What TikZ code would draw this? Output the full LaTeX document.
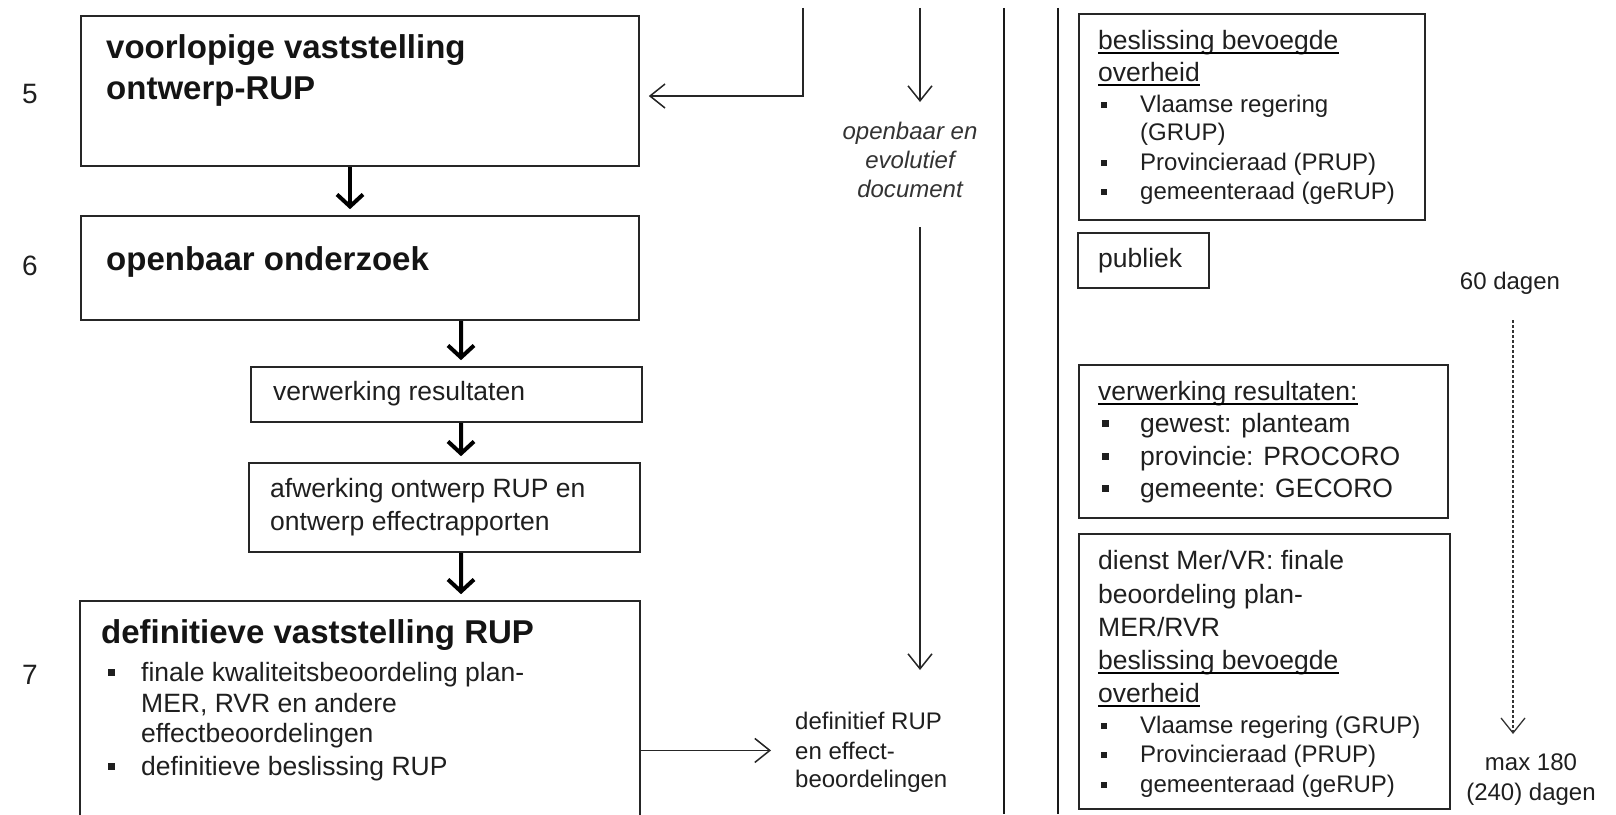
\documentclass[tikz,border=0pt]{standalone}
\usepackage{fontspec}
\setmainfont{Liberation Sans}
\usetikzlibrary{arrows.meta,calc}
\newcommand\bulA{\makebox[33bp][l]{\rule[5.5bp]{6.5bp}{6.5bp}}}
\newcommand\bulB{\makebox[39bp][l]{\rule[4.5bp]{6bp}{6bp}}}
\newcommand\bulC{\makebox[38bp][l]{\rule[5.5bp]{6.5bp}{6.5bp}}}
\begin{document}
\begin{tikzpicture}[x=1bp,y=-1bp,
  box/.style={draw=black!85,line width=1.6bp,inner sep=0pt,fill=white},
  tbold/.style={anchor=base west,inner sep=0pt,text=black!92,font=\fontsize{33bp}{40bp}\selectfont\bfseries},
  tnorm/.style={anchor=base west,inner sep=0pt,text=black!88,font=\fontsize{26.5bp}{32bp}\selectfont},
  tnum/.style={anchor=base west,inner sep=0pt,text=black!88,font=\fontsize{28bp}{32bp}\selectfont},
  tsmall/.style={anchor=base west,inner sep=0pt,text=black!88,font=\fontsize{24bp}{29bp}\selectfont},
  tsmallc/.style={anchor=base,inner sep=0pt,text=black!88,font=\fontsize{24bp}{29bp}\selectfont},
  titc/.style={anchor=base,inner sep=0pt,text=black!80,font=\fontsize{24bp}{29bp}\selectfont\itshape},
  thickarr/.style={draw=black,line width=4bp,-{Straight Barb[length=12bp,width=26bp]},shorten >=6bp},
  thinarr/.style={draw=black!85,line width=1.5bp,-{Straight Barb[length=15bp,width=24bp]}},
  sepline/.style={draw=black!90,line width=1.8bp},
  uline/.style={draw=black,line width=2bp}]
\clip (0,0) rectangle (1616,814);
\fill[white] (0,0) rectangle (1616,814);

% ---------------- left column ----------------
\node[box,minimum width=558bp,minimum height=150bp] (b5) at (360,91) {};
\node[tbold] (b5t1) at (106,59) {voorlopige vaststelling};
\node[tbold] (b5t2) at (106,99) {ontwerp-RUP};
\node[tnum] (n5) at (22,103) {5};

\node[box,minimum width=558bp,minimum height=104bp] (b6) at (360,268) {};
\node[tbold] (b6t) at (106,270) {openbaar onderzoek};
\node[tnum] (n6) at (22,275) {6};

\node[box,minimum width=391bp,minimum height=55bp] (vr) at (446.5,394.5) {};
\node[tnorm] (vrt) at (273,400) {verwerking resultaten};

\node[box,minimum width=391bp,minimum height=89bp] (af) at (444.5,507.5) {};
\node[tnorm] (aft1) at (270,497) {afwerking ontwerp RUP en};
\node[tnorm] (aft2) at (270,530) {ontwerp effectrapporten};

\node[box,minimum width=560bp,minimum height=229bp] (b7) at (360,715.5) {};
\node[tbold] (b7t) at (101,643) {definitieve vaststelling RUP};
\node[tnorm] (b7l1) at (108,681) {\bulA finale kwaliteitsbeoordeling plan-};
\node[tnorm] (b7l2) at (141,712) {MER, RVR en andere};
\node[tnorm] (b7l3) at (141,742) {effectbeoordelingen};
\node[tnorm] (b7l4) at (108,775) {\bulA definitieve beslissing RUP};
\node[tnum] (n7) at (22,684) {7};

\draw[thickarr] ([xshift=-10bp]b5.south) -- ([xshift=-10bp]b6.north);
\draw[thickarr] ([xshift=101bp]b6.south) -- ([xshift=14.5bp]vr.north);
\draw[thickarr] ([xshift=14.5bp]vr.south) -- ([xshift=16.5bp]af.north);
\draw[thickarr] ([xshift=16.5bp]af.south) -- ([xshift=101bp]b7.north);

% ---------------- middle ----------------
\coordinate (topL) at (803,8);
\draw[thinarr,shorten >=9bp] (topL) |- ([yshift=-5bp]b5.east);

\coordinate (mtop) at (920,8);
\coordinate (mtip) at (920,102);
\draw[thinarr] (mtop) -- (mtip);
\node[titc] (doc1) at (910,139) {openbaar en};
\node[titc] (doc2) at (910,168) {evolutief};
\node[titc] (doc3) at (910,197) {document};
\coordinate (mbot) at (920,227);
\coordinate (mbtip) at (920,670);
\draw[thinarr] (mbot) -- (mbtip);

\node[tsmall] (dr1) at (795,729) {definitief RUP};
\node[tsmall] (dr2) at (795,759) {en effect-};
\node[tsmall] (dr3) at (795,787) {beoordelingen};
\draw[thinarr] (b7.east |- dr2) -- ([xshift=-24bp]dr2.west |- dr2);

\coordinate (s1t) at (1004,8);
\coordinate (s1b) at (1004,814);
\coordinate (s2t) at (1058,8);
\coordinate (s2b) at (1058,814);
\draw[sepline] (s1t) -- (s1b);
\draw[sepline] (s2t) -- (s2b);

% ---------------- right column ----------------
\node[box,minimum width=346bp,minimum height=206bp] (r1) at (1252,117) {};
\node[tnorm] (r1h1) at (1098,50) {beslissing bevoegde};
\node[tnorm] (r1h2) at (1098,81) {overheid};
\draw[uline] ([yshift=-3.5bp]r1h1.base west) -- ([yshift=-3.5bp]r1h1.base east);
\draw[uline] ([yshift=-3.5bp]r1h2.base west) -- ([yshift=-3.5bp]r1h2.base east);
\node[tsmall] (r1l1) at (1101,112) {\bulB Vlaamse regering};
\node[tsmall] (r1l2) at (1140,140) {(GRUP)};
\node[tsmall] (r1l3) at (1101,170) {\bulB Provincieraad (PRUP)};
\node[tsmall] (r1l4) at (1101,199) {\bulB gemeenteraad (geRUP)};

\node[box,minimum width=131bp,minimum height=55bp] (pub) at (1143.5,260.5) {};
\node[tnorm] (pubt) at (1098,267) {publiek};

\node[tsmallc] (d60) at (1510,289) {60 dagen};
\coordinate (dtop) at (1513,320);
\coordinate (dtip) at (1513,734);
\draw[thinarr,draw=black!80,line width=1.3bp,dash pattern=on 3bp off 2bp] (dtop) -- (dtip);
\node[tsmallc] (m180) at (1531,770) {max 180};
\node[tsmallc] (m240) at (1531,800) {(240) dagen};

\node[box,minimum width=369bp,minimum height=153bp] (r2) at (1263.5,441.5) {};
\node[tnorm] (r2h) at (1098,400) {verwerking resultaten:};
\draw[uline] ([yshift=-3.5bp]r2h.base west) -- ([yshift=-3.5bp]r2h.base east);
\node[tnorm] (r2l1) at (1102,432) {\bulC gewest: planteam};
\node[tnorm] (r2l2) at (1102,465) {\bulC provincie: PROCORO};
\node[tnorm] (r2l3) at (1102,497) {\bulC gemeente: GECORO};

\node[box,minimum width=371bp,minimum height=275bp] (r3) at (1264.5,671.5) {};
\node[tnorm] (r3a) at (1098,569) {dienst Mer/VR: finale};
\node[tnorm] (r3b) at (1098,603) {beoordeling plan-};
\node[tnorm] (r3c) at (1098,636) {MER/RVR};
\node[tnorm] (r3d) at (1098,669) {beslissing bevoegde};
\node[tnorm] (r3e) at (1098,702) {overheid};
\draw[uline] ([yshift=-3.5bp]r3d.base west) -- ([yshift=-3.5bp]r3d.base east);
\draw[uline] ([yshift=-3.5bp]r3e.base west) -- ([yshift=-3.5bp]r3e.base east);
\node[tsmall] (r3l1) at (1101,733) {\bulB Vlaamse regering (GRUP)};
\node[tsmall] (r3l2) at (1101,762) {\bulB Provincieraad (PRUP)};
\node[tsmall] (r3l3) at (1101,792) {\bulB gemeenteraad (geRUP)};
\end{tikzpicture}
\end{document}
